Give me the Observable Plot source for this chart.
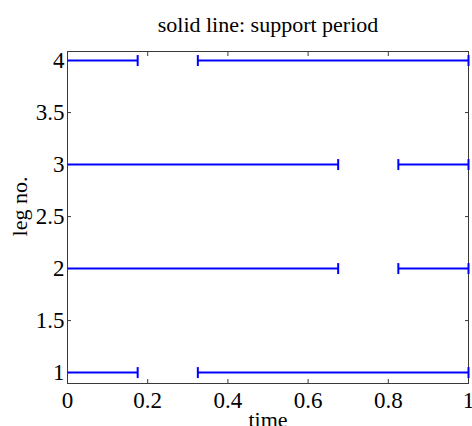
<!DOCTYPE html>
<html>
<head>
<meta charset="utf-8">
<script src="https://cdn.jsdelivr.net/npm/d3@7"></script>
<script src="https://cdn.jsdelivr.net/npm/@observablehq/plot@0.6"></script>
<style>
  html, body { margin: 0; padding: 0; background: #fff; }
  g[aria-label="x-axis tick label"], g[aria-label="y-axis tick label"] { font-size: 23px !important; }
</style>
</head>
<body>
<div id="chart"></div>
<script>
// Data: support periods (solid line) for each leg
const legs = [1, 1, 2, 2, 3, 3, 4, 4];
const starts = [0, 0.325, 0, 0.825, 0, 0.825, 0, 0.325];
const ends = [0.175, 1, 0.675, 1, 0.675, 1, 0.175, 1];
const xTicks = [0, 0.2, 0.4, 0.6, 0.8, 1];
const yTicks = [1, 1.5, 2, 2.5, 3, 3.5, 4];
const titleText = "solid line: support period";
const xLabel = "time";
const yLabel = "leg no.";

const segments = legs.map((leg, i) => ({leg, start: starts[i], end: ends[i]}));
// cap marks at segment ends (no cap at t = 0, as in the reference)
const caps = [];
segments.forEach(s => {
  if (s.start > 0) caps.push({leg: s.leg, t: s.start});
  caps.push({leg: s.leg, t: s.end});
});

const vbar = {
  draw(context, size) {
    const h = Math.sqrt(size / Math.PI);
    context.moveTo(0, -h);
    context.lineTo(0, h);
  }
};

const axisColor = "#3a3a3a";

const chart = Plot.plot({
  width: 472,
  height: 426,
  marginLeft: 67,
  marginRight: 4,
  marginTop: 51,
  marginBottom: 43,
  style: {fontFamily: "'Liberation Serif', 'Times New Roman', serif", fontSize: "22px", color: "black", background: "white"},
  x: {domain: [0, 1]},
  y: {domain: [0.895, 4.087]},
  marks: [
    Plot.frame({stroke: axisColor, strokeWidth: 1}),
    Plot.axisX({ticks: xTicks, tickSize: -4, tickPadding: 12, stroke: axisColor, tickFormat: d => String(d), label: null, fontSize: 23}),
    Plot.axisX({anchor: "top", ticks: xTicks, tickSize: -4, tickFormat: () => "", label: null, stroke: axisColor}),
    Plot.axisY({ticks: yTicks, tickSize: -4, tickPadding: 7, stroke: axisColor, tickFormat: d => String(d), label: null, fontSize: 23}),
    Plot.axisY({anchor: "right", ticks: yTicks, tickSize: -4, tickFormat: () => "", label: null, stroke: axisColor}),
    Plot.link(segments, {x1: "start", x2: "end", y1: "leg", y2: "leg", stroke: "#0000ff", strokeWidth: 2}),
    Plot.dot(caps, {x: "t", y: "leg", symbol: vbar, r: 5.5, stroke: "#0000ff", strokeWidth: 2, fill: "none"}),
    Plot.text([titleText], {frameAnchor: "top", dy: -27, fontSize: 22, lineAnchor: "middle", fill: "black"}),
    Plot.text([xLabel], {frameAnchor: "bottom", dy: 36, fontSize: 22, lineAnchor: "middle", fill: "black"}),
    Plot.text([yLabel], {frameAnchor: "left", dx: -48, dy: -11, rotate: -90, textAnchor: "middle", fontSize: 22, lineAnchor: "middle", fill: "black"})
  ]
});
document.getElementById("chart").appendChild(chart);
</script>
</body>
</html>
